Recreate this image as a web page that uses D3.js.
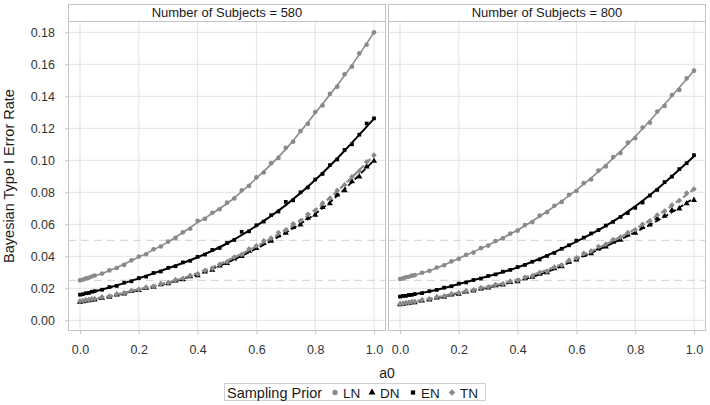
<!DOCTYPE html>
<html><head><meta charset="utf-8">
<script src="https://cdn.jsdelivr.net/npm/d3@7"></script>
<style>body{margin:0;background:#fff}svg{display:block}text{font-family:"Liberation Sans",Arial,sans-serif}</style>
</head><body><svg id="c" width="710" height="405"></svg>
<script>
const a0 = [0,0.01,0.02,0.03,0.04,0.05,0.075,0.1,0.125,0.15,0.175,0.2,0.225,0.25,0.275,0.3,0.325,0.35,0.375,0.4,0.425,0.45,0.475,0.5,0.525,0.55,0.575,0.6,0.625,0.65,0.675,0.7,0.725,0.75,0.775,0.8,0.825,0.85,0.875,0.9,0.925,0.95,0.975,1.0];
const a0Fit = [0,0.1,0.2,0.3,0.4,0.5,0.6,0.7,0.8,0.9,1.0];
const panels = ["Number of Subjects = 580","Number of Subjects = 800"];
const priors = ["LN","DN","EN","TN"];
// simulated points
const LN580 = [0.0250,0.0254,0.0262,0.0266,0.0274,0.0280,0.0292,0.0312,0.0327,0.0346,0.0375,0.0398,0.0413,0.0444,0.0461,0.0492,0.0515,0.0550,0.0572,0.0622,0.0634,0.0672,0.0694,0.0735,0.0762,0.0812,0.0840,0.0893,0.0924,0.0982,0.1015,0.1078,0.1116,0.1183,0.1228,0.1302,0.1343,0.1415,0.1460,0.1538,0.1585,0.1668,0.1722,0.1800];
const DN580 = [0.0115,0.0117,0.0122,0.0123,0.0128,0.0129,0.0140,0.0146,0.0160,0.0166,0.0181,0.0188,0.0202,0.0208,0.0224,0.0230,0.0247,0.0255,0.0273,0.0280,0.0303,0.0315,0.0341,0.0356,0.0385,0.0400,0.0433,0.0450,0.0482,0.0496,0.0530,0.0545,0.0581,0.0598,0.0639,0.0658,0.0706,0.0730,0.0785,0.0812,0.0868,0.0898,0.0960,0.0995];
const EN580 = [0.0160,0.0163,0.0169,0.0171,0.0178,0.0182,0.0191,0.0208,0.0215,0.0235,0.0244,0.0264,0.0273,0.0296,0.0305,0.0328,0.0338,0.0362,0.0372,0.0397,0.0411,0.0440,0.0452,0.0483,0.0502,0.0553,0.0556,0.0594,0.0617,0.0657,0.0680,0.0740,0.0750,0.0800,0.0830,0.0880,0.0915,0.0970,0.1005,0.1065,0.1100,0.1160,0.1230,0.1262];
const TN580 = [0.0120,0.0122,0.0127,0.0128,0.0133,0.0134,0.0145,0.0150,0.0164,0.0170,0.0185,0.0192,0.0206,0.0212,0.0228,0.0235,0.0253,0.0261,0.0280,0.0289,0.0312,0.0325,0.0350,0.0365,0.0395,0.0412,0.0446,0.0466,0.0497,0.0514,0.0548,0.0565,0.0603,0.0622,0.0663,0.0686,0.0732,0.0762,0.0812,0.0846,0.0897,0.0932,0.0990,0.1032];
const LN800 = [0.0258,0.0262,0.0269,0.0272,0.0279,0.0282,0.0297,0.0309,0.0330,0.0344,0.0368,0.0384,0.0409,0.0423,0.0451,0.0467,0.0495,0.0512,0.0542,0.0560,0.0595,0.0614,0.0654,0.0676,0.0716,0.0740,0.0784,0.0808,0.0857,0.0880,0.0936,0.0962,0.1020,0.1045,0.1110,0.1138,0.1205,0.1235,0.1305,0.1340,0.1408,0.1440,0.1512,0.1560];
const DN800 = [0.0098,0.0100,0.0105,0.0106,0.0111,0.0112,0.0122,0.0128,0.0141,0.0146,0.0160,0.0165,0.0179,0.0184,0.0197,0.0203,0.0217,0.0222,0.0238,0.0243,0.0262,0.0270,0.0290,0.0298,0.0324,0.0336,0.0365,0.0378,0.0406,0.0418,0.0448,0.0460,0.0490,0.0502,0.0534,0.0545,0.0581,0.0597,0.0636,0.0652,0.0688,0.0698,0.0730,0.0750];
const EN800 = [0.0148,0.0152,0.0153,0.0158,0.0159,0.0164,0.0170,0.0182,0.0190,0.0204,0.0213,0.0229,0.0237,0.0252,0.0261,0.0277,0.0287,0.0304,0.0315,0.0333,0.0346,0.0366,0.0380,0.0402,0.0421,0.0447,0.0469,0.0498,0.0517,0.0543,0.0564,0.0592,0.0615,0.0646,0.0670,0.0703,0.0736,0.0780,0.0815,0.0864,0.0898,0.0945,0.0982,0.1032];
const TN800 = [0.0102,0.0104,0.0109,0.0110,0.0115,0.0116,0.0128,0.0133,0.0146,0.0151,0.0165,0.0171,0.0184,0.0189,0.0203,0.0208,0.0223,0.0228,0.0244,0.0250,0.0268,0.0277,0.0298,0.0306,0.0333,0.0345,0.0376,0.0390,0.0418,0.0432,0.0461,0.0476,0.0505,0.0520,0.0549,0.0566,0.0600,0.0621,0.0658,0.0682,0.0720,0.0748,0.0795,0.0820];
// smoothed fit curves (read at a0 = 0, 0.1, ..., 1)
const LN580fit = [0.025,0.031,0.0395,0.049,0.061,0.073,0.0888,0.107,0.1295,0.153,0.180];
const DN580fit = [0.0115,0.0148,0.019,0.0233,0.0288,0.0360,0.0448,0.0548,0.0665,0.082,0.100];
const EN580fit = [0.016,0.0205,0.0262,0.0325,0.0394,0.048,0.059,0.072,0.0877,0.106,0.126];
const TN580fit = [0.012,0.0152,0.0194,0.0237,0.0295,0.0372,0.0462,0.0565,0.069,0.085,0.103];
const LN800fit = [0.0258,0.031,0.0387,0.047,0.0564,0.068,0.0814,0.097,0.1148,0.135,0.156];
const DN800fit = [0.0098,0.013,0.0168,0.0205,0.0246,0.0302,0.0380,0.0462,0.055,0.0648,0.0765];
const EN800fit = [0.0148,0.018,0.0227,0.0275,0.0331,0.0405,0.0492,0.059,0.0712,0.086,0.1025];
const TN800fit = [0.0102,0.0135,0.0173,0.021,0.0255,0.0315,0.0390,0.0475,0.0570,0.0685,0.082];
const xTicks = [0,0.2,0.4,0.6,0.8,1.0];
const yTicks = [0,0.02,0.04,0.06,0.08,0.10,0.12,0.14,0.16,0.18];
const refLines = [0.025,0.05];

const seriesData = [
  {LN:LN580, DN:DN580, EN:EN580, TN:TN580},
  {LN:LN800, DN:DN800, EN:EN800, TN:TN800}
];
const fitData = [
  {LN:LN580fit, DN:DN580fit, EN:EN580fit, TN:TN580fit},
  {LN:LN800fit, DN:DN800fit, EN:EN800fit, TN:TN800fit}
];
seriesData.forEach(p=>priors.forEach(k=>{ if(p[k].length!==a0.length) throw new Error(k+" length "+p[k].length); }));

const style = {
  LN:{color:"#8a8a8a", dash:null, width:1.6, shape:d3.symbolCircle, size:17, rot:0},
  DN:{color:"#000", dash:"6,3", width:1.8, shape:d3.symbolTriangle, size:16, rot:0},
  EN:{color:"#000", dash:null, width:2, shape:d3.symbolSquare, size:14, rot:0},
  TN:{color:"#8a8a8a", dash:"6,3", width:2.2, shape:d3.symbolSquare, size:16, rot:45}
};

const svg = d3.select("#c");
const panelLeft = [68, 388], panelW = 318, pTop = 21, pBottom = 331, stripTop = 4;
const y = d3.scaleLinear().domain([0,0.18]).range([320.3,32.3]);
const FONT = '"Liberation Sans",Arial,sans-serif';

panels.forEach((title,i)=>{
  const L = panelLeft[i], R = L + panelW;
  const x = d3.scaleLinear().domain([0,1]).range([L+12, R-12]);
  const g = svg.append("g");
  g.selectAll(".gy").data(yTicks).join("line")
    .attr("x1",L).attr("x2",R).attr("y1",d=>y(d)).attr("y2",d=>y(d))
    .attr("stroke","#e3e3e3").attr("stroke-width",1);
  g.selectAll(".gx").data(xTicks).join("line")
    .attr("y1",pTop).attr("y2",pBottom).attr("x1",d=>x(d)).attr("x2",d=>x(d))
    .attr("stroke","#e3e3e3").attr("stroke-width",1);
  g.selectAll(".ref").data(refLines).join("line")
    .attr("x1",L).attr("x2",R).attr("y1",d=>y(d)).attr("y2",d=>y(d))
    .attr("stroke","#d0d0d0").attr("stroke-width",1).attr("stroke-dasharray","8,5");
  const data = seriesData[i], fit = fitData[i];
  priors.forEach(k=>{
    const s = style[k];
    const pts = a0.map((a,j)=>[a,data[k][j]]);
    g.append("g").selectAll("path").data(pts).join("path")
      .attr("transform",d=>`translate(${x(d[0])},${y(d[1])}) rotate(${s.rot})`)
      .attr("d", d3.symbol().type(s.shape).size(s.size)).attr("fill",s.color);
    g.append("path").datum(a0Fit.map((a,j)=>[a,fit[k][j]]))
      .attr("d", d3.line().x(d=>x(d[0])).y(d=>y(d[1])).curve(d3.curveNatural))
      .attr("fill","none").attr("stroke",s.color).attr("stroke-width",s.width)
      .attr("stroke-dasharray",s.dash);
  });
  g.append("rect").attr("x",L+0.5).attr("y",pTop+0.5).attr("width",panelW-1).attr("height",pBottom-pTop-1)
    .attr("fill","none").attr("stroke","#c4c4c4").attr("stroke-width",1);
  g.append("rect").attr("x",L+0.5).attr("y",stripTop+0.5).attr("width",panelW-1).attr("height",pTop-stripTop)
    .attr("fill","#fff").attr("stroke","#c4c4c4").attr("stroke-width",1);
  g.append("text").attr("x",(L+R)/2).attr("y",17).attr("text-anchor","middle")
    .attr("font-size",13).attr("fill","#1a1a1a").text(title);
  const ax = g.append("g").attr("transform",`translate(0,${pBottom})`)
    .call(d3.axisBottom(x).tickValues(xTicks).tickFormat(d3.format(".1f")).tickSize(3).tickPadding(11));
  ax.select(".domain").remove();
  ax.selectAll("line").attr("stroke","#c4c4c4");
  ax.selectAll("text").attr("font-size",12.5).attr("fill","#333").attr("font-family",FONT);
  if(i===0){
    const ay = g.append("g").attr("transform",`translate(${L},0)`)
      .call(d3.axisLeft(y).tickValues(yTicks).tickFormat(d3.format(".2f")).tickSize(3).tickPadding(10));
    ay.select(".domain").remove();
    ay.selectAll("line").attr("stroke","#c4c4c4");
    ay.selectAll("text").attr("font-size",12.5).attr("fill","#333").attr("font-family",FONT);
  }
});

svg.append("text").attr("transform","translate(14,176) rotate(-90)").attr("text-anchor","middle")
  .attr("font-size",14.5).attr("fill","#1a1a1a").text("Bayesian Type I Error Rate");
svg.append("text").attr("x",387).attr("y",378).attr("text-anchor","middle")
  .attr("font-size",14).attr("fill","#1a1a1a").text("a0");

const lg = svg.append("g");
lg.append("rect").attr("x",224.5).attr("y",383.5).attr("width",261).attr("height",17)
  .attr("fill","#fff").attr("stroke","#cfcfcf");
lg.append("text").attr("x",227).attr("y",397.5).attr("font-size",14.5).attr("fill","#1a1a1a").text("Sampling Prior");
const legX = [335, 372, 413, 452];
priors.forEach((k,j)=>{
  const s = style[k];
  lg.append("path").attr("transform",`translate(${legX[j]},${392.5}) rotate(${s.rot})`)
    .attr("d", d3.symbol().type(s.shape).size(s.size*1.3)).attr("fill",s.color);
  lg.append("text").attr("x",legX[j]+8).attr("y",397.5).attr("font-size",13.5).attr("fill","#1a1a1a").text(k);
});
</script></body></html>
